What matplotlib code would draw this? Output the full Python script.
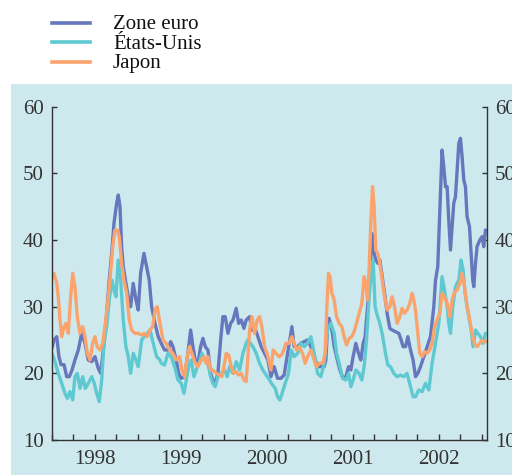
import numpy as np
import matplotlib
matplotlib.use("Agg")
import matplotlib.pyplot as plt
from matplotlib.patches import Rectangle
from matplotlib.lines import Line2D

plt.rcParams['font.family'] = ['Liberation Serif', 'DejaVu Serif']

# ---------------- data ----------------
series_names = ["Zone euro", "États-Unis", "Japon"]
series_colors = ["#6677bd", "#5ec9d1", "#fba36c"]

euro_t = [1998.000, 1998.023, 1998.055, 1998.081, 1998.105, 1998.140, 1998.171, 1998.201, 1998.233, 1998.267,
          1998.306, 1998.345, 1998.384, 1998.422, 1998.462, 1998.500, 1998.538, 1998.566, 1998.597, 1998.636,
          1998.666, 1998.694, 1998.721, 1998.752, 1998.771, 1998.791, 1998.810, 1998.829, 1998.860, 1998.887,
          1998.915, 1998.945, 1998.977, 1999.003, 1999.031, 1999.070, 1999.101, 1999.131, 1999.159, 1999.198,
          1999.236, 1999.271, 1999.310, 1999.349, 1999.380, 1999.407, 1999.445, 1999.473, 1999.503, 1999.543,
          1999.581, 1999.613, 1999.640, 1999.666, 1999.698, 1999.729, 1999.756, 1999.783, 1999.814, 1999.845,
          1999.872, 1999.899, 1999.930, 1999.962, 1999.988, 2000.015, 2000.047, 2000.078, 2000.105, 2000.143,
          2000.171, 2000.201, 2000.233, 2000.259, 2000.299, 2000.326, 2000.357, 2000.395, 2000.434, 2000.473,
          2000.512, 2000.547, 2000.585, 2000.624, 2000.663, 2000.701, 2000.741, 2000.767, 2000.791, 2000.817,
          2000.857, 2000.895, 2000.934, 2000.973, 2001.012, 2001.050, 2001.090, 2001.128, 2001.166, 2001.186,
          2001.206, 2001.224, 2001.256, 2001.283, 2001.310, 2001.349, 2001.387, 2001.419, 2001.450, 2001.477,
          2001.503, 2001.535, 2001.566, 2001.593, 2001.620, 2001.643, 2001.671, 2001.698, 2001.721, 2001.748,
          2001.767, 2001.791, 2001.814, 2001.841, 2001.869, 2001.899, 2001.930, 2001.957, 2001.997, 2002.035,
          2002.062, 2002.085, 2002.113, 2002.140, 2002.171, 2002.201, 2002.229, 2002.256, 2002.287, 2002.326,
          2002.364, 2002.403, 2002.442, 2002.462, 2002.488, 2002.508, 2002.538, 2002.558, 2002.578, 2002.597,
          2002.616, 2002.636, 2002.655, 2002.674, 2002.694, 2002.713, 2002.733, 2002.752, 2002.771, 2002.791,
          2002.810, 2002.829, 2002.857, 2002.876, 2002.895, 2002.907, 2002.927, 2002.945, 2002.977, 2003.003,
          2003.023, 2003.043]
euro_v = [23.8, 25.0, 25.5, 22.5, 21.3, 21.3, 19.5, 19.5, 20.5, 22.0,
          23.5, 26.0, 24.5, 22.0, 21.75, 22.5, 20.75, 20.0, 23.5, 29.0,
          34.0, 38.0, 42.5, 45.5, 46.75, 45.0, 39.0, 36.0, 33.5, 31.5,
          30.0, 33.5, 31.0, 29.5, 35.0, 38.0, 36.0, 34.0, 30.0, 27.5,
          25.5, 24.5, 23.5, 23.5, 24.75, 24.0, 22.0, 20.0, 19.25, 19.5,
          23.0, 26.5, 24.0, 22.0, 21.5, 24.0, 25.25, 24.0, 23.5, 20.0,
          19.0, 18.5, 20.0, 25.0, 28.5, 28.5, 26.0, 27.5, 28.0, 29.75,
          27.5, 28.0, 26.75, 28.0, 28.5, 26.5, 27.0, 25.5, 24.0, 23.0,
          22.0, 19.5, 21.0, 19.25, 19.25, 19.75, 23.0, 25.0, 27.0, 24.0,
          24.0, 24.5, 24.75, 25.0, 24.0, 22.5, 21.0, 21.0, 21.0, 22.0,
          27.0, 28.25, 26.5, 24.0, 22.5, 20.5, 19.25, 19.5, 21.0, 20.5,
          22.5, 24.5, 23.0, 22.0, 24.5, 25.5, 30.0, 34.0, 41.0, 38.0,
          37.0, 36.5, 37.0, 34.5, 32.0, 29.0, 26.75, 26.5, 26.25, 26.0,
          25.0, 24.0, 24.0, 25.5, 23.5, 22.0, 19.5, 20.0, 21.0, 22.5,
          24.0, 25.5, 30.0, 34.0, 36.0, 43.0, 53.5, 51.0, 48.0, 48.0,
          43.0, 38.5, 42.0, 45.5, 46.5, 50.5, 54.5, 55.25, 52.5, 49.0,
          48.0, 43.5, 42.0, 38.0, 34.0, 33.0, 36.5, 39.0, 40.0, 40.5,
          39.0, 41.5]

us_t = [1998.000, 1998.035, 1998.073, 1998.113, 1998.151, 1998.178, 1998.209, 1998.241, 1998.267, 1998.294,
        1998.326, 1998.357, 1998.387, 1998.422, 1998.462, 1998.492, 1998.520, 1998.550, 1998.578, 1998.605,
        1998.636, 1998.666, 1998.698, 1998.721, 1998.744, 1998.771, 1998.799, 1998.829, 1998.860, 1998.887,
        1998.915, 1998.945, 1998.977, 1999.003, 1999.043, 1999.073, 1999.108, 1999.140, 1999.178, 1999.217,
        1999.256, 1999.271, 1999.310, 1999.349, 1999.387, 1999.427, 1999.465, 1999.503, 1999.535, 1999.562,
        1999.590, 1999.620, 1999.651, 1999.678, 1999.717, 1999.744, 1999.776, 1999.814, 1999.845, 1999.872,
        1999.899, 1999.930, 1999.969, 2000.008, 2000.038, 2000.066, 2000.105, 2000.143, 2000.183, 2000.221,
        2000.259, 2000.279, 2000.310, 2000.337, 2000.376, 2000.415, 2000.453, 2000.492, 2000.531, 2000.566,
        2000.597, 2000.624, 2000.651, 2000.683, 2000.713, 2000.752, 2000.783, 2000.817, 2000.857, 2000.895,
        2000.934, 2000.973, 2001.012, 2001.050, 2001.090, 2001.128, 2001.166, 2001.206, 2001.244, 2001.283,
        2001.310, 2001.341, 2001.380, 2001.419, 2001.450, 2001.477, 2001.503, 2001.535, 2001.573, 2001.605,
        2001.631, 2001.659, 2001.690, 2001.721, 2001.736, 2001.759, 2001.783, 2001.814, 2001.841, 2001.880,
        2001.907, 2001.938, 2001.977, 2002.015, 2002.055, 2002.093, 2002.131, 2002.171, 2002.201, 2002.229,
        2002.267, 2002.306, 2002.345, 2002.384, 2002.422, 2002.462, 2002.500, 2002.538, 2002.566, 2002.597,
        2002.616, 2002.636, 2002.663, 2002.694, 2002.733, 2002.759, 2002.783, 2002.810, 2002.849, 2002.876,
        2002.899, 2002.927, 2002.953, 2002.985, 2003.015, 2003.043]
us_v = [23.0, 21.75, 20.0, 18.5, 17.0, 16.25, 17.25, 16.0, 19.5, 20.0,
        17.75, 19.5, 17.75, 18.5, 19.5, 18.5, 17.0, 15.75, 19.0, 24.5,
        27.0, 31.0, 34.0, 32.5, 31.5, 37.0, 34.0, 28.0, 24.0, 22.5,
        20.0, 23.0, 22.0, 21.0, 25.0, 25.5, 26.0, 26.5, 24.5, 22.5,
        22.0, 21.5, 21.25, 23.0, 22.5, 21.0, 19.0, 18.5, 17.0, 19.0,
        21.0, 22.0, 19.5, 20.5, 21.75, 23.0, 22.0, 21.5, 19.5, 18.5,
        18.0, 19.5, 20.0, 20.5, 19.5, 21.0, 20.0, 21.75, 20.5, 23.0,
        24.5, 25.0, 24.5, 24.0, 23.0, 21.5, 20.5, 19.75, 19.0, 18.25,
        17.75, 16.5, 16.0, 17.25, 18.5, 20.0, 23.5, 22.5, 23.0, 24.5,
        24.0, 24.5, 25.5, 23.0, 20.0, 19.5, 21.5, 26.5, 27.5, 26.0,
        23.0, 21.5, 19.25, 19.0, 20.0, 18.0, 19.0, 20.5, 20.0, 19.0,
        21.0, 25.0, 31.5, 36.0, 37.0, 30.0, 28.75, 27.5, 26.0, 23.0,
        21.25, 21.0, 20.0, 19.5, 19.75, 19.5, 20.0, 18.0, 16.5, 16.5,
        17.5, 17.25, 18.5, 17.5, 21.5, 24.5, 27.5, 34.5, 32.5, 30.0,
        27.5, 26.0, 30.0, 33.0, 34.0, 37.0, 35.5, 31.5, 28.5, 26.5,
        24.0, 26.5, 26.0, 25.5, 24.5, 26.0]

jp_t = [1998.000, 1998.023, 1998.055, 1998.073, 1998.093, 1998.113, 1998.140, 1998.163, 1998.190, 1998.217,
        1998.241, 1998.267, 1998.294, 1998.326, 1998.357, 1998.384, 1998.410, 1998.442, 1998.473, 1998.500,
        1998.527, 1998.558, 1998.590, 1998.616, 1998.643, 1998.674, 1998.706, 1998.733, 1998.759, 1998.783,
        1998.810, 1998.837, 1998.869, 1998.899, 1998.927, 1998.965, 1999.003, 1999.043, 1999.073, 1999.108,
        1999.140, 1999.171, 1999.198, 1999.224, 1999.263, 1999.291, 1999.329, 1999.369, 1999.407, 1999.445,
        1999.485, 1999.512, 1999.543, 1999.573, 1999.601, 1999.628, 1999.659, 1999.698, 1999.736, 1999.767,
        1999.794, 1999.814, 1999.845, 1999.872, 1999.910, 1999.950, 1999.977, 2000.000, 2000.027, 2000.055,
        2000.085, 2000.116, 2000.143, 2000.171, 2000.201, 2000.233, 2000.259, 2000.279, 2000.299, 2000.326,
        2000.357, 2000.387, 2000.415, 2000.442, 2000.473, 2000.512, 2000.547, 2000.573, 2000.605, 2000.643,
        2000.683, 2000.721, 2000.759, 2000.791, 2000.817, 2000.845, 2000.876, 2000.915, 2000.945, 2000.973,
        2001.012, 2001.050, 2001.078, 2001.108, 2001.148, 2001.178, 2001.198, 2001.217, 2001.236, 2001.256,
        2001.283, 2001.310, 2001.341, 2001.372, 2001.399, 2001.427, 2001.457, 2001.488, 2001.515, 2001.543,
        2001.573, 2001.605, 2001.631, 2001.651, 2001.671, 2001.690, 2001.709, 2001.729, 2001.748, 2001.767,
        2001.791, 2001.814, 2001.841, 2001.869, 2001.899, 2001.930, 2001.957, 2001.985, 2002.015, 2002.047,
        2002.073, 2002.101, 2002.131, 2002.163, 2002.190, 2002.209, 2002.229, 2002.256, 2002.279, 2002.306,
        2002.334, 2002.364, 2002.395, 2002.422, 2002.450, 2002.480, 2002.512, 2002.538, 2002.566, 2002.597,
        2002.628, 2002.655, 2002.683, 2002.713, 2002.744, 2002.771, 2002.799, 2002.829, 2002.860, 2002.887,
        2002.915, 2002.945, 2002.977, 2003.003, 2003.031, 2003.055]
jp_v = [34.25, 35.0, 33.5, 31.5, 28.0, 25.5, 27.0, 27.5, 26.0, 31.5,
        35.0, 33.0, 28.5, 26.0, 27.0, 25.5, 23.0, 22.0, 24.5, 25.5,
        24.0, 23.5, 24.5, 27.0, 30.0, 34.0, 39.0, 41.5, 41.5, 40.5,
        36.5, 34.0, 32.0, 28.0, 26.5, 26.0, 26.0, 25.75, 26.0, 25.5,
        26.5, 27.0, 29.5, 30.0, 27.0, 25.0, 24.5, 23.5, 23.0, 22.0,
        22.5, 20.5, 19.5, 22.5, 24.0, 23.0, 21.75, 21.0, 22.0, 22.5,
        21.5, 22.5, 20.5, 20.5, 20.0, 19.75, 19.5, 21.0, 23.0, 22.75,
        21.0, 20.0, 20.25, 19.75, 20.0, 19.0, 18.75, 22.5, 26.5, 28.5,
        26.0, 28.0, 28.5, 27.0, 24.0, 22.5, 20.5, 23.5, 23.0, 22.5,
        23.0, 24.5, 24.5, 25.5, 24.5, 23.5, 24.0, 23.0, 21.5, 22.5,
        23.5, 22.0, 21.0, 21.5, 21.5, 23.0, 30.0, 35.0, 34.5, 32.0,
        31.0, 28.5, 27.5, 27.0, 25.5, 24.25, 25.25, 25.5, 26.25, 27.5,
        29.0, 30.5, 34.5, 33.5, 31.0, 36.0, 42.5, 48.0, 45.0, 38.5,
        38.0, 36.5, 34.0, 31.5, 29.5, 30.0, 31.5, 30.0, 27.5, 28.5,
        29.75, 29.0, 29.5, 30.5, 32.0, 31.0, 29.5, 26.0, 23.0, 22.5,
        23.25, 23.0, 23.5, 24.5, 27.0, 28.0, 29.0, 32.0, 31.5, 30.5,
        28.5, 31.0, 32.25, 32.5, 33.5, 35.0, 33.0, 30.0, 28.0, 26.0,
        24.5, 24.0, 24.5, 25.0, 24.75, 24.75]

years = [1998, 1999, 2000, 2001, 2002]
year_labels = ["1998", "1999", "2000", "2001", "2002"]
y_ticks = [10, 20, 30, 40, 50, 60]

# ---------------- figure ----------------
W, H = 512, 475
fig = plt.figure(figsize=(W / 100, H / 100), dpi=100)
fig.patch.set_facecolor("white")

panel_color = "#cde9ed"
fig.patches.append(Rectangle((11 / W, 0), 1 - 11 / W, (H - 84) / H,
                             transform=fig.transFigure, facecolor=panel_color,
                             edgecolor="none", zorder=-10))

ax = fig.add_axes([52 / W, (H - 440) / H, (486.5 - 52) / W, (440 - 106.7) / H])
ax.set_facecolor("none")
ax.set_zorder(5)

data = [(euro_t, euro_v), (us_t, us_v), (jp_t, jp_v)]
for (t, v), name, col in zip(data, series_names, series_colors):
    ax.plot(t, v, color=col, lw=2.4, solid_joinstyle="round",
            solid_capstyle="round", label=name)

ax.set_xlim(1998.0, 2003.055)
ax.set_ylim(10, 60)

spine_col = "#333333"
for s in ["left", "right", "bottom"]:
    ax.spines[s].set_color(spine_col)
    ax.spines[s].set_linewidth(1.0)
ax.spines["top"].set_visible(False)

ax.set_yticks(y_ticks)
ax.set_yticklabels([str(v) for v in y_ticks])
ax.tick_params(axis="y", which="both", direction="in", length=3.5, width=1.0,
               color=spine_col, labelsize=15, labelcolor="#333333",
               left=True, right=True, labelleft=True, labelright=True, pad=6)

q_ticks = []
q_labels = []
for y, lab in zip(years, year_labels):
    for q in (0.0, 0.25, 0.5, 0.75):
        q_ticks.append(y + q)
        q_labels.append(lab if q == 0.5 else "")
q_ticks.append(years[-1] + 1)
q_labels.append("")
ax.set_xticks(q_ticks)
ax.set_xticklabels(q_labels)
ax.tick_params(axis="x", which="major", direction="in", length=4, width=1.0,
               color=spine_col, labelsize=15, labelcolor="#333333", pad=7)

# legend (manual, above panel)
leg_y = [22.7, 42.3, 61.7]
for yy, name, col in zip(leg_y, series_names, series_colors):
    fig.add_artist(Line2D([52 / W, 90 / W], [1 - yy / H, 1 - yy / H],
                          transform=fig.transFigure, color=col, lw=2.6))
    fig.text(113 / W, 1 - (yy + 6.3) / H, name, fontsize=15, color="#111111",
             va="baseline", ha="left")

fig.savefig("out.png", dpi=100)
